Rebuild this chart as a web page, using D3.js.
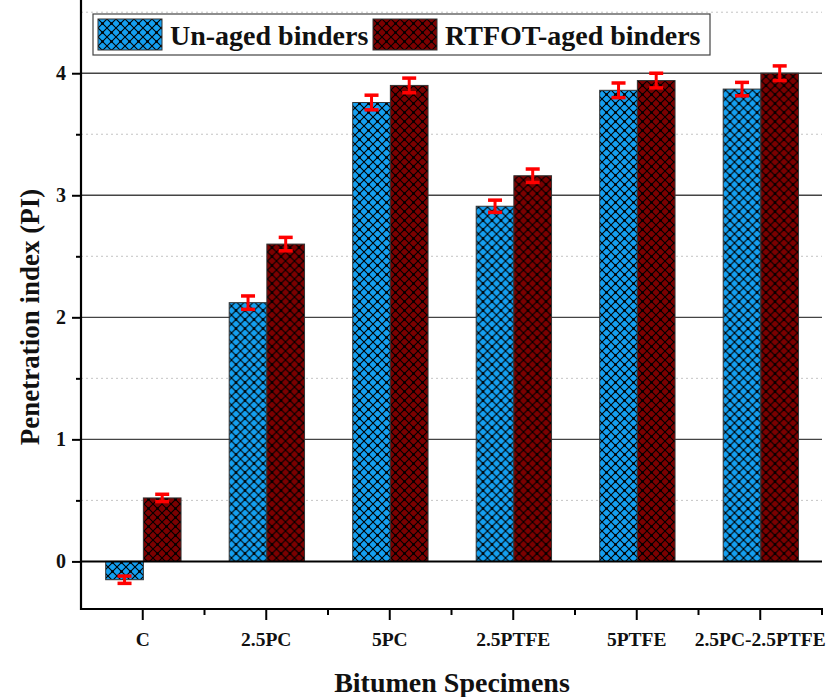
<!DOCTYPE html>
<html>
<head>
<meta charset="utf-8">
<script src="https://cdn.jsdelivr.net/npm/d3@7"></script>
<style>
  body { margin: 0; background: #fff; }
  svg text { font-family: "Liberation Serif", "Times New Roman", serif; font-weight: bold; fill: #111; }
</style>
</head>
<body>
<div id="chart"></div>
<script>
// data
var categories = ["C", "2.5PC", "5PC", "2.5PTFE", "5PTFE", "2.5PC-2.5PTFE"];
var seriesNames = ["Un-aged binders", "RTFOT-aged binders"];
var unagedValues = [-0.15, 2.12, 3.76, 2.91, 3.86, 3.87];
var unagedErrors = [0.03, 0.055, 0.06, 0.05, 0.06, 0.055];
var agedValues = [0.52, 2.60, 3.90, 3.16, 3.94, 4.00];
var agedErrors = [0.03, 0.055, 0.06, 0.055, 0.06, 0.06];
var majorTicks = [0, 1, 2, 3, 4];
var minorTicks = [0.5, 1.5, 2.5, 3.5, 4.5];

var W = 838, H = 697;
var margin = { top: 0, right: 16, bottom: 88, left: 81 };

var svg = d3.select("#chart").append("svg")
    .attr("width", W)
    .attr("height", H);

// hatch patterns
var defs = svg.append("defs");
function hatch(id, fill) {
    var s = 9;
    var p = defs.append("pattern")
        .attr("id", id)
        .attr("patternUnits", "userSpaceOnUse")
        .attr("width", s).attr("height", s);
    p.append("rect").attr("width", s).attr("height", s).attr("fill", fill);
    p.append("path")
        .attr("d", "M0,0 L" + s + "," + s + " M" + s + ",0 L0," + s)
        .attr("stroke", "#000")
        .attr("stroke-width", 1.1);
    p.append("circle").attr("cx", s / 2).attr("cy", s / 2).attr("r", 1.3).attr("fill", "#000");
}
hatch("hatchBlue", "#149ff0");
hatch("hatchRed", "#7c0000");
var fills = ["url(#hatchBlue)", "url(#hatchRed)"];

var plotW = W - margin.left - margin.right;
var plotH = H - margin.top - margin.bottom;

var g = svg.append("g")
    .attr("transform", "translate(" + margin.left + "," + margin.top + ")");

var x0 = d3.scaleBand().domain(categories).range([0, plotW]).padding(0);
var step = x0.step();
var x1 = d3.scaleBand().domain(seriesNames).range([step * 0.2, step * 0.81]).padding(0);
var y = d3.scaleLinear().domain([-0.39, 4.6]).range([plotH, 0]);

// grid
g.selectAll(".minorGrid").data(minorTicks).enter().append("line")
    .attr("x1", 0).attr("x2", plotW)
    .attr("y1", function(d) { return y(d); }).attr("y2", function(d) { return y(d); })
    .attr("stroke", "#c4c4c4").attr("stroke-width", 1).attr("stroke-dasharray", "2,3");
g.selectAll(".majorGrid").data(majorTicks.filter(function(d) { return d !== 0; })).enter().append("line")
    .attr("x1", 0).attr("x2", plotW)
    .attr("y1", function(d) { return y(d); }).attr("y2", function(d) { return y(d); })
    .attr("stroke", "#444").attr("stroke-width", 1.3);

// bars
var rows = categories.map(function(c, i) {
    return {
        cat: c,
        vals: [
            { s: 0, v: unagedValues[i], e: unagedErrors[i] },
            { s: 1, v: agedValues[i], e: agedErrors[i] }
        ]
    };
});

var grp = g.selectAll(".grp").data(rows).enter().append("g")
    .attr("transform", function(d) { return "translate(" + x0(d.cat) + ",0)"; });

grp.selectAll("rect").data(function(d) { return d.vals; }).enter().append("rect")
    .attr("x", function(d) { return x1(seriesNames[d.s]); })
    .attr("width", x1.bandwidth())
    .attr("y", function(d) { return y(Math.max(0, d.v)); })
    .attr("height", function(d) { return Math.abs(y(d.v) - y(0)); })
    .attr("fill", function(d) { return fills[d.s]; })
    .attr("stroke", "#333").attr("stroke-width", 1);

// zero line
g.append("line")
    .attr("x1", 0).attr("x2", plotW)
    .attr("y1", y(0)).attr("y2", y(0))
    .attr("stroke", "#000").attr("stroke-width", 2);

// error bars
var eb = grp.selectAll(".err").data(function(d) { return d.vals; }).enter().append("g")
    .attr("transform", function(d) { return "translate(" + (x1(seriesNames[d.s]) + x1.bandwidth() / 2) + ",0)"; });
eb.append("line")
    .attr("y1", function(d) { return y(d.v + d.e); }).attr("y2", function(d) { return y(d.v - d.e); })
    .attr("stroke", "#f00").attr("stroke-width", 3);
eb.append("line")
    .attr("x1", -7).attr("x2", 7)
    .attr("y1", function(d) { return y(d.v + d.e); }).attr("y2", function(d) { return y(d.v + d.e); })
    .attr("stroke", "#f00").attr("stroke-width", 3.5);
eb.append("line")
    .attr("x1", -7).attr("x2", 7)
    .attr("y1", function(d) { return y(d.v - d.e); }).attr("y2", function(d) { return y(d.v - d.e); })
    .attr("stroke", "#f00").attr("stroke-width", 3.5);

// y axis
var yAxis = g.append("g")
    .call(d3.axisLeft(y).tickValues(majorTicks).tickSize(9).tickPadding(6).tickFormat(d3.format("d")));
yAxis.select(".domain").remove();
yAxis.selectAll(".tick line").attr("stroke", "#000").attr("stroke-width", 2);
yAxis.selectAll(".tick text").style("font-size", "20px");
g.append("g")
    .call(d3.axisLeft(y).tickValues(minorTicks.filter(function(d) { return d < 4.5; })).tickSize(5).tickFormat(""))
    .call(function(a) { a.select(".domain").remove(); a.selectAll("line").attr("stroke", "#000").attr("stroke-width", 2); });
g.append("line")
    .attr("x1", 0).attr("x2", 0).attr("y1", 0).attr("y2", plotH + 1)
    .attr("stroke", "#000").attr("stroke-width", 2.2);

// x axis
var xAxis = g.append("g")
    .attr("transform", "translate(0," + plotH + ")")
    .call(d3.axisBottom(x0).tickSize(11).tickPadding(12).tickSizeOuter(0));
xAxis.select(".domain").remove();
xAxis.selectAll(".tick line").attr("stroke", "#000").attr("stroke-width", 2);
xAxis.selectAll(".tick text").style("font-size", "19.5px");
g.append("g")
    .attr("transform", "translate(0," + plotH + ")")
    .selectAll("line").data(d3.range(1, categories.length + 1)).enter().append("line")
    .attr("x1", function(d) { return d * step; }).attr("x2", function(d) { return d * step; })
    .attr("y1", 0).attr("y2", 6)
    .attr("stroke", "#000").attr("stroke-width", 2);
g.append("line")
    .attr("x1", -1).attr("x2", plotW + 1).attr("y1", plotH).attr("y2", plotH)
    .attr("stroke", "#000").attr("stroke-width", 2.2);

// axis titles
svg.append("text")
    .attr("transform", "translate(39,317) rotate(-90)")
    .attr("text-anchor", "middle")
    .style("font-size", "27px")
    .text("Penetration index (PI)");
svg.append("text")
    .attr("x", 452)
    .attr("y", 692)
    .attr("text-anchor", "middle")
    .style("font-size", "28px")
    .text("Bitumen Specimens");

// legend
var leg = svg.append("g").attr("transform", "translate(93,14)");
leg.append("rect")
    .attr("width", 617).attr("height", 41)
    .attr("fill", "#fff").attr("stroke", "#444").attr("stroke-width", 1.2);
var legX = [5, 280];
var items = leg.selectAll(".li").data(seriesNames).enter().append("g")
    .attr("transform", function(d, i) { return "translate(" + legX[i] + ",5)"; });
items.append("rect")
    .attr("width", 64).attr("height", 31)
    .attr("fill", function(d, i) { return fills[i]; })
    .attr("stroke", "#333").attr("stroke-width", 1);
items.append("text")
    .attr("x", 72)
    .attr("y", 26)
    .style("font-size", "28px")
    .text(function(d) { return d; });
</script>
</body>
</html>
